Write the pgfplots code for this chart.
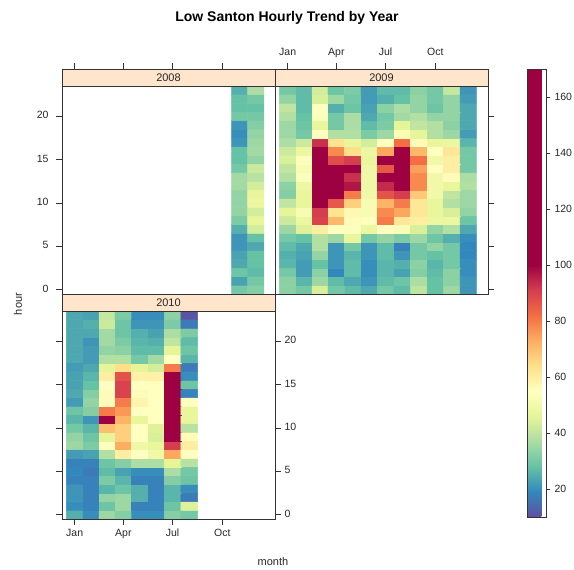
\documentclass[border=0pt]{standalone}
\usepackage{pgfplots}
\pgfplotsset{compat=1.18}
\usepackage{pgfplotstable}
\usepackage{fontspec}
\setmainfont{Liberation Sans}

\definecolor{stripbg}{HTML}{FFE5CC}
\definecolor{frame}{HTML}{333333}

% Spectral ramp from 10 (violet) to 100 (dark red), flat dark red up to 170
\pgfplotsset{colormap={spec}{rgb255(0cm)=(94,79,162); rgb255(9cm)=(50,136,189); rgb255(18cm)=(102,194,165); rgb255(27cm)=(171,221,164); rgb255(36cm)=(230,245,152); rgb255(45cm)=(255,255,191); rgb255(54cm)=(254,224,139); rgb255(63cm)=(253,174,97); rgb255(72cm)=(244,109,67); rgb255(81cm)=(213,62,79); rgb255(90cm)=(158,1,66); rgb255(160cm)=(158,1,66)}}

% x = day of year of the first of each month, y = hour, c = level
% 2008: November and December (leap year)
\pgfplotstableread[row sep=\\]{
x y c\\
305 0 30\\ 335 0 32\\
305 1 23\\ 335 1 30\\
305 2 29\\ 335 2 27\\
305 3 24\\ 335 3 28\\
305 4 23\\ 335 4 28\\
305 5 21\\ 335 5 24\\
305 6 21\\ 335 6 28\\
305 7 25\\ 335 7 43\\
305 8 31\\ 335 8 47\\
305 9 34\\ 335 9 43\\
305 10 34\\ 335 10 48\\
305 11 34\\ 335 11 47\\
305 12 36\\ 335 12 43\\
305 13 36\\ 335 13 39\\
305 14 30\\ 335 14 42\\
305 15 28\\ 335 15 34\\
305 16 28\\ 335 16 36\\
305 17 21\\ 335 17 35\\
305 18 20\\ 335 18 34\\
305 19 21\\ 335 19 32\\
305 20 30\\ 335 20 30\\
305 21 28\\ 335 21 28\\
305 22 28\\ 335 22 30\\
305 23 25\\ 335 23 37\\
}\tabA

% 2009: January to December
\pgfplotstableread[row sep=\\]{
x y c\\
0 0 33\\ 31 0 30\\ 59 0 44\\ 90 0 30\\ 120 0 27\\ 151 0 24\\ 181 0 30\\ 212 0 27\\ 243 0 40\\ 273 0 28\\ 304 0 35\\ 334 0 21\\
0 1 33\\ 31 1 26\\ 59 1 35\\ 90 1 27\\ 120 1 24\\ 151 1 21\\ 181 1 27\\ 212 1 29\\ 243 1 37\\ 273 1 28\\ 304 1 33\\ 334 1 21\\
0 2 30\\ 31 2 22\\ 59 2 33\\ 90 2 19\\ 120 2 27\\ 151 2 20\\ 181 2 26\\ 212 2 23\\ 243 2 32\\ 273 2 27\\ 304 2 33\\ 334 2 20\\
0 3 26\\ 31 3 22\\ 59 3 28\\ 90 3 21\\ 120 3 27\\ 151 3 20\\ 181 3 26\\ 212 3 25\\ 243 3 33\\ 273 3 26\\ 304 3 30\\ 334 3 20\\
0 4 25\\ 31 4 23\\ 59 4 34\\ 90 4 21\\ 120 4 26\\ 151 4 21\\ 181 4 27\\ 212 4 21\\ 243 4 30\\ 273 4 28\\ 304 4 30\\ 334 4 19\\
0 5 27\\ 31 5 24\\ 59 5 38\\ 90 5 21\\ 120 5 30\\ 151 5 21\\ 181 5 27\\ 212 5 18\\ 243 5 30\\ 273 5 34\\ 304 5 30\\ 334 5 19\\
0 6 30\\ 31 6 28\\ 59 6 38\\ 90 6 35\\ 120 6 47\\ 151 6 30\\ 181 6 34\\ 212 6 31\\ 243 6 35\\ 273 6 29\\ 304 6 25\\ 334 6 20\\
0 7 35\\ 31 7 45\\ 59 7 60\\ 90 7 55\\ 120 7 54\\ 151 7 48\\ 181 7 55\\ 212 7 53\\ 243 7 44\\ 273 7 34\\ 304 7 38\\ 334 7 24\\
0 8 42\\ 31 8 48\\ 59 8 90\\ 90 8 71\\ 120 8 56\\ 151 8 55\\ 181 8 80\\ 212 8 62\\ 243 8 60\\ 273 8 48\\ 304 8 48\\ 334 8 29\\
0 9 46\\ 31 9 52\\ 59 9 91\\ 90 9 63\\ 120 9 57\\ 151 9 52\\ 181 9 78\\ 212 9 74\\ 243 9 62\\ 273 9 47\\ 304 9 44\\ 334 9 34\\
0 10 40\\ 31 10 47\\ 59 10 130\\ 90 10 86\\ 120 10 67\\ 151 10 52\\ 181 10 72\\ 212 10 80\\ 243 10 62\\ 273 10 47\\ 304 10 38\\ 334 10 35\\
0 11 32\\ 31 11 47\\ 59 11 140\\ 90 11 110\\ 120 11 80\\ 151 11 50\\ 181 11 87\\ 212 11 91\\ 243 11 68\\ 273 11 50\\ 304 11 40\\ 334 11 35\\
0 12 33\\ 31 12 48\\ 59 12 150\\ 90 12 115\\ 120 12 97\\ 151 12 49\\ 181 12 94\\ 212 12 120\\ 243 12 78\\ 273 12 50\\ 304 12 47\\ 334 12 38\\
0 13 38\\ 31 13 54\\ 59 13 150\\ 90 13 120\\ 120 13 93\\ 151 13 50\\ 181 13 110\\ 212 13 130\\ 243 13 78\\ 273 13 50\\ 304 13 56\\ 334 13 37\\
0 14 40\\ 31 14 52\\ 59 14 150\\ 90 14 110\\ 120 14 105\\ 151 14 49\\ 181 14 86\\ 212 14 120\\ 243 14 75\\ 273 14 55\\ 304 14 60\\ 334 14 30\\
0 15 44\\ 31 15 54\\ 59 15 140\\ 90 15 88\\ 120 15 91\\ 151 15 47\\ 181 15 120\\ 212 15 130\\ 243 15 82\\ 273 15 50\\ 304 15 60\\ 334 15 30\\
0 16 42\\ 31 16 48\\ 59 16 130\\ 90 16 78\\ 120 16 64\\ 151 16 48\\ 181 16 74\\ 212 16 120\\ 243 16 71\\ 273 16 55\\ 304 16 62\\ 334 16 30\\
0 17 37\\ 31 17 42\\ 59 17 93\\ 90 17 63\\ 120 17 47\\ 151 17 43\\ 181 17 55\\ 212 17 82\\ 243 17 56\\ 273 17 47\\ 304 17 48\\ 334 17 26\\
0 18 35\\ 31 18 30\\ 59 18 55\\ 90 18 38\\ 120 18 38\\ 151 18 31\\ 181 18 35\\ 212 18 53\\ 243 18 46\\ 273 18 38\\ 304 18 35\\ 334 18 22\\
0 19 35\\ 31 19 29\\ 59 19 47\\ 90 19 30\\ 120 19 37\\ 151 19 27\\ 181 19 31\\ 212 19 46\\ 243 19 40\\ 273 19 38\\ 304 19 33\\ 334 19 24\\
0 20 38\\ 31 20 28\\ 59 20 54\\ 90 20 30\\ 120 20 37\\ 151 20 24\\ 181 20 30\\ 212 20 36\\ 243 20 38\\ 273 20 34\\ 304 20 34\\ 334 20 24\\
0 21 40\\ 31 21 27\\ 59 21 55\\ 90 21 25\\ 120 21 29\\ 151 21 23\\ 181 21 33\\ 212 21 37\\ 243 21 34\\ 273 21 29\\ 304 21 34\\ 334 21 24\\
0 22 34\\ 31 22 27\\ 59 22 44\\ 90 22 35\\ 120 22 30\\ 151 22 22\\ 181 22 25\\ 212 22 28\\ 243 22 34\\ 273 22 30\\ 304 22 34\\ 334 22 22\\
0 23 30\\ 31 23 27\\ 59 23 43\\ 90 23 29\\ 120 23 31\\ 151 23 22\\ 181 23 27\\ 212 23 27\\ 243 23 33\\ 273 23 30\\ 304 23 41\\ 334 23 21\\
}\tabB

% 2010: January to August
\pgfplotstableread[row sep=\\]{
x y c\\
0 0 25\\ 31 0 20\\ 59 0 35\\ 90 0 32\\ 120 0 20\\ 151 0 20\\ 181 0 32\\ 212 0 30\\
0 1 20\\ 31 1 18\\ 59 1 29\\ 90 1 35\\ 120 1 18\\ 151 1 18\\ 181 1 29\\ 212 1 45\\
0 2 21\\ 31 2 18\\ 59 2 34\\ 90 2 35\\ 120 2 25\\ 151 2 18\\ 181 2 26\\ 212 2 17\\
0 3 21\\ 31 3 18\\ 59 3 26\\ 90 3 29\\ 120 3 25\\ 151 3 18\\ 181 3 26\\ 212 3 20\\
0 4 18\\ 31 4 18\\ 59 4 31\\ 90 4 26\\ 120 4 18\\ 151 4 18\\ 181 4 32\\ 212 4 29\\
0 5 19\\ 31 5 17\\ 59 5 27\\ 90 5 23\\ 120 5 20\\ 151 5 20\\ 181 5 37\\ 212 5 30\\
0 6 18\\ 31 6 18\\ 59 6 29\\ 90 6 32\\ 120 6 37\\ 151 6 37\\ 181 6 46\\ 212 6 39\\
0 7 22\\ 31 7 23\\ 59 7 38\\ 90 7 60\\ 120 7 55\\ 151 7 50\\ 181 7 74\\ 212 7 55\\
0 8 35\\ 31 8 31\\ 59 8 55\\ 90 8 73\\ 120 8 49\\ 151 8 47\\ 181 8 91\\ 212 8 60\\
0 9 34\\ 31 9 29\\ 59 9 46\\ 90 9 67\\ 120 9 55\\ 151 9 44\\ 181 9 105\\ 212 9 56\\
0 10 30\\ 31 10 26\\ 59 10 70\\ 90 10 67\\ 120 10 55\\ 151 10 45\\ 181 10 140\\ 212 10 39\\
0 11 26\\ 31 11 21\\ 59 11 110\\ 90 11 72\\ 120 11 47\\ 151 11 55\\ 181 11 150\\ 212 11 47\\
0 12 29\\ 31 12 32\\ 59 12 80\\ 90 12 76\\ 120 12 55\\ 151 12 55\\ 181 12 160\\ 212 12 47\\
0 13 22\\ 31 13 34\\ 59 13 56\\ 90 13 80\\ 120 13 58\\ 151 13 55\\ 181 13 160\\ 212 13 55\\
0 14 24\\ 31 14 32\\ 59 14 56\\ 90 14 90\\ 120 14 56\\ 151 14 55\\ 181 14 160\\ 212 14 18\\
0 15 23\\ 31 15 28\\ 59 15 55\\ 90 15 90\\ 120 15 55\\ 151 15 55\\ 181 15 150\\ 212 15 29\\
0 16 23\\ 31 16 26\\ 59 16 60\\ 90 16 87\\ 120 16 59\\ 151 16 59\\ 181 16 130\\ 212 16 20\\
0 17 22\\ 31 17 24\\ 59 17 46\\ 90 17 64\\ 120 17 46\\ 151 17 43\\ 181 17 80\\ 212 17 17\\
0 18 24\\ 31 18 22\\ 59 18 38\\ 90 18 38\\ 120 18 30\\ 151 18 36\\ 181 18 55\\ 212 18 26\\
0 19 24\\ 31 19 22\\ 59 19 34\\ 90 19 33\\ 120 19 27\\ 151 19 27\\ 181 19 46\\ 212 19 29\\
0 20 24\\ 31 20 21\\ 59 20 36\\ 90 20 31\\ 120 20 26\\ 151 20 25\\ 181 20 40\\ 212 20 27\\
0 21 24\\ 31 21 24\\ 59 21 36\\ 90 21 29\\ 120 21 25\\ 151 21 23\\ 181 21 37\\ 212 21 31\\
0 22 24\\ 31 22 25\\ 59 22 42\\ 90 22 29\\ 120 22 21\\ 151 22 21\\ 181 22 31\\ 212 22 17\\
0 23 24\\ 31 23 23\\ 59 23 41\\ 90 23 31\\ 120 23 20\\ 151 23 20\\ 181 23 33\\ 212 23 11\\
}\tabC

\pgfplotsset{
  panel/.style={
    scale only axis, width=213pt, height=225pt, anchor=south west,
    xmin=-23.5, xmax=370.5, ymin=-0.5, ymax=25.4615,
    axis on top,
    axis line style={frame, line width=0.6pt},
    xtick={0,90,181,273}, xticklabels={Jan,Apr,Jul,Oct},
    ytick={0,5,10,15,20},
    tick align=outside, major tick length=6pt,
    tick style={frame, line width=0.6pt},
    tick label style={font=\fontsize{10.5}{12}\selectfont, text=black!85},
    typeset ticklabels with strut,
    /pgf/number format/assume math mode=true,
    colormap name=spec, point meta min=10, point meta max=170,
  },
  cells/.style={matrix plot*, mesh/cols=#1, point meta=explicit},
}

% year strip across the top of a panel
\newcommand\yearstrip[1]{%
  \fill[stripbg] (rel axis cs:0,0.92444) rectangle (rel axis cs:1,1);
  \draw[frame, line width=0.6pt] (rel axis cs:0,0.92444) -- (rel axis cs:1,0.92444);
  \node[font=\fontsize{11}{13}\selectfont, text=black!85] at (rel axis cs:0.5,0.96222) {#1};
}

\begin{document}
\begin{tikzpicture}[x=1pt, y=1pt]
\useasboundingbox (0,0) rectangle (574,570);

\node[font=\bfseries\fontsize{14}{17}\selectfont] at (287,552) {Low Santon Hourly Trend by Year};

% 2008 (top left)
\begin{axis}[panel, at={(62pt,276pt)},
  xtick pos=right, xticklabels={},
  ytick pos=left, yticklabel pos=left,
  yticklabel style={xshift=-4pt}]
  \addplot[cells=2] table[x=x, y=y, meta=c] {\tabA};
  \yearstrip{2008}
\end{axis}

% 2009 (top right) with the colour key
\begin{axis}[panel, at={(275pt,276pt)},
  xtick pos=right, xticklabel pos=right,
  ytick pos=right, yticklabels={},
  colorbar,
  colorbar style={
    at={(parent axis.north east)}, anchor=north west, xshift=30.5pt,
    scale only axis, width=19pt, height=448pt,
    ytick={20,40,60,80,100,120,140,160},
    ytick pos=right, yticklabel pos=right,
    tick align=outside, major tick length=4pt,
    tick style={frame, line width=0.6pt},
    axis line style={frame, line width=0.6pt},
    yticklabel style={font=\fontsize{10.5}{12}\selectfont, text=black!85, xshift=1pt},
    /pgf/number format/assume math mode=true,
  }]
  \addplot[cells=12] table[x=x, y=y, meta=c] {\tabB};
  \yearstrip{2009}
\end{axis}

% 2010 (bottom left)
\begin{axis}[panel, at={(62pt,51pt)},
  xtick pos=left, xticklabel pos=left,
  ytick pos=both, yticklabel pos=right]
  \addplot[cells=8] table[x=x, y=y, meta=c] {\tabC};
  \yearstrip{2010}
\end{axis}

\node[rotate=90, font=\fontsize{11}{13}\selectfont, text=black!85] at (18,266) {hour};
\node[font=\fontsize{11}{13}\selectfont, text=black!85] at (273,8) {month};
\end{tikzpicture}
\end{document}
